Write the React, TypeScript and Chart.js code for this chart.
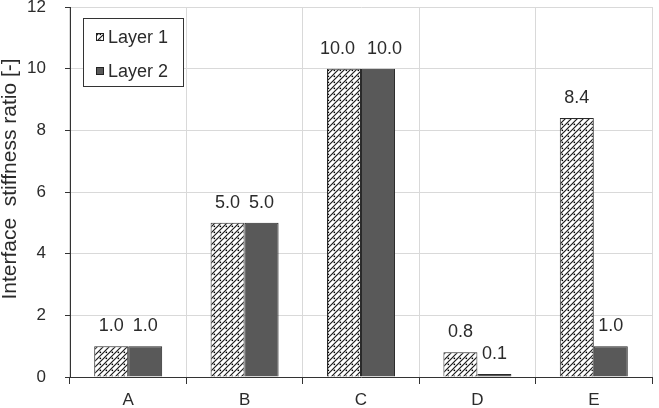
import React, { useEffect, useRef } from 'react';
import { Chart, registerables } from 'chart.js';

Chart.register(...registerables);

const categories = ['A', 'B', 'C', 'D', 'E'];
const seriesNames = ['Layer 1', 'Layer 2'];
const layer1 = [1.0, 5.0, 10.0, 0.8, 8.4];
const layer2 = [1.0, 5.0, 10.0, 0.1, 1.0];
const yMin = 0;
const yMax = 12;
const yStep = 2;
const yTitle = 'Interface  stiffness ratio [-]';

const FONT = '"Liberation Sans", Arial, Helvetica, sans-serif';
const TEXT = '#2b2b2b';

function makePattern(): CanvasPattern | string {
  const c = document.createElement('canvas');
  c.width = 6;
  c.height = 6;
  const g = c.getContext('2d');
  if (!g) return '#ffffff';
  g.fillStyle = '#ffffff';
  g.fillRect(0, 0, 6, 6);
  g.strokeStyle = '#1a1a1a';
  g.lineWidth = 1.2;
  g.beginPath();
  g.moveTo(0, 6);
  g.lineTo(6, 0);
  g.moveTo(-1, 1);
  g.lineTo(1, -1);
  g.moveTo(5, 7);
  g.lineTo(7, 5);
  g.stroke();
  g.fillStyle = '#000000';
  g.fillRect(3.6, 3.6, 1.5, 1.5);
  const p = g.createPattern(c, 'repeat');
  return p || '#ffffff';
}

export default function App() {
  const ref = useRef<HTMLCanvasElement | null>(null);

  useEffect(() => {
    if (!ref.current) return;
    const pattern = makePattern();
    const fills = [pattern, '#595959'];

    const overlay = {
      id: 'overlay',
      afterDatasetsDraw(chart: any) {
        const ctx = chart.ctx as CanvasRenderingContext2D;
        ctx.save();
        ctx.font = `18px ${FONT}`;
        ctx.fillStyle = TEXT;
        ctx.textAlign = 'center';
        ctx.textBaseline = 'middle';
        const n = chart.data.labels.length;
        const nd = chart.data.datasets.length;
        for (let i = 0; i < n; i++) {
          const items: { x: number; y: number; t: string; w: number }[] = [];
          for (let di = 0; di < nd; di++) {
            const el: any = chart.getDatasetMeta(di).data[i];
            const v = chart.data.datasets[di].data[i] as number;
            const t = v.toFixed(1);
            items.push({ x: el.x, y: el.y - 20, t, w: ctx.measureText(t).width });
          }
          // push apart adjacent labels at the same height if they collide
          for (let k = 1; k < items.length; k++) {
            const a = items[k - 1];
            const b = items[k];
            if (Math.abs(a.y - b.y) < 14) {
              const gap = b.x - b.w / 2 - (a.x + a.w / 2);
              if (gap < 6) {
                const need = (12 - gap) / 2;
                a.x -= need;
                b.x += need;
              }
            }
          }
          items.forEach((it) => ctx.fillText(it.t, it.x, it.y));
        }
        ctx.restore();
      },
      afterDraw(chart: any) {
        const ctx = chart.ctx as CanvasRenderingContext2D;
        // y axis title
        ctx.save();
        ctx.translate(10, 179);
        ctx.rotate(-Math.PI / 2);
        ctx.font = `21px ${FONT}`;
        ctx.fillStyle = TEXT;
        ctx.textAlign = 'center';
        ctx.textBaseline = 'middle';
        ctx.fillText(yTitle, 0, 0);
        ctx.restore();

        // legend box
        ctx.save();
        ctx.fillStyle = '#ffffff';
        ctx.fillRect(83.5, 18.5, 100, 68);
        ctx.strokeStyle = '#333333';
        ctx.lineWidth = 1;
        ctx.strokeRect(83.5, 18.5, 100, 68);
        const rows = [37, 71];
        seriesNames.forEach((name, i) => {
          const cy = rows[i];
          ctx.fillStyle = fills[i] as any;
          ctx.fillRect(96, cy - 4, 8, 8);
          ctx.strokeStyle = '#222222';
          ctx.strokeRect(96.5, cy - 3.5, 7, 7);
          ctx.font = `18px ${FONT}`;
          ctx.fillStyle = TEXT;
          ctx.textAlign = 'left';
          ctx.textBaseline = 'middle';
          ctx.fillText(name, 108, cy + 1);
        });
        ctx.restore();
      },
    };

    const chart = new Chart(ref.current, {
      type: 'bar',
      data: {
        labels: categories,
        datasets: [
          {
            label: seriesNames[0],
            data: layer1,
            backgroundColor: pattern as any,
            borderColor: '#2a2a2a',
            borderWidth: 1,
            categoryPercentage: 0.584,
            barPercentage: 1,
          },
          {
            label: seriesNames[1],
            data: layer2,
            backgroundColor: '#595959',
            borderColor: '#2a2a2a',
            borderWidth: 1,
            categoryPercentage: 0.584,
            barPercentage: 1,
          },
        ],
      },
      options: {
        responsive: false,
        animation: false,
        devicePixelRatio: 1,
        layout: { padding: { top: 7, right: 7, left: 0, bottom: 0 } },
        plugins: {
          legend: { display: false },
          tooltip: { enabled: false },
          title: { display: false },
        },
        scales: {
          x: {
            grid: {
              offset: true,
              color: '#d9d9d9',
              tickColor: '#333333',
              tickLength: 7,
              lineWidth: 1,
            },
            border: { color: '#333333', width: 1 },
            ticks: {
              color: TEXT,
              font: { family: FONT, size: 17 },
              padding: 6,
              maxRotation: 0,
            },
            afterFit(scale: any) {
              scale.height = 31;
              scale.paddingLeft = 0;
              scale.paddingRight = 0;
            },
          },
          y: {
            min: yMin,
            max: yMax,
            grid: {
              color: '#d9d9d9',
              tickColor: '#333333',
              tickLength: 5,
              lineWidth: 1,
            },
            border: { color: '#333333', width: 1 },
            ticks: {
              stepSize: yStep,
              color: TEXT,
              font: { family: FONT, size: 17 },
              padding: 19,
            },
            afterFit(scale: any) {
              scale.width = 70;
              scale.paddingTop = 0;
              scale.paddingBottom = 0;
            },
          },
        },
      },
      plugins: [overlay],
    });

    return () => chart.destroy();
  }, []);

  return (
    <div style={{ position: 'absolute', left: 0, top: 0, width: 659, height: 408, background: '#ffffff' }}>
      <canvas ref={ref} width={659} height={408} style={{ display: 'block', width: 659, height: 408 }} />
    </div>
  );
}
